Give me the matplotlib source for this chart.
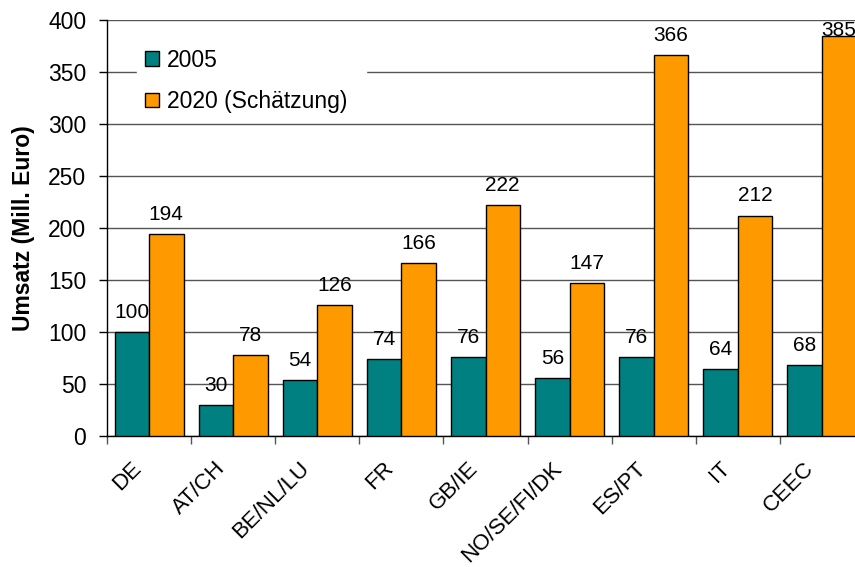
import numpy as np
import matplotlib.pyplot as plt
import matplotlib.transforms as mtransforms

plt.rcParams['font.family'] = ['Liberation Sans', 'DejaVu Sans']

regions = ['DE', 'AT/CH', 'BE/NL/LU', 'FR', 'GB/IE', 'NO/SE/FI/DK', 'ES/PT', 'IT', 'CEEC']
umsatz_2005 = [100, 30, 54, 74, 76, 56, 76, 64, 68]
umsatz_2020 = [194, 78, 126, 166, 222, 147, 366, 212, 385]
series_names = ['2005', '2020 (Schätzung)']
colors = ['#008080', '#FF9900']

fig = plt.figure(figsize=(8.55, 5.67), dpi=100)
# plot area runs slightly past the right edge of the figure
ax = fig.add_axes([107/855, 1 - 436/567, 757/855, 416/567])

x = np.arange(len(regions))
w = 0.41
ymax = 400

for off, vals, name, c in zip([-w/2, w/2], [umsatz_2005, umsatz_2020], series_names, colors):
    ax.bar(x + off, vals, width=w, color=c, edgecolor='black', linewidth=1, label=name, zorder=3)
    for xi, v in zip(x + off, vals):
        # keep labels inside the plot area
        ty = min(v + 13.5, ymax - 15)
        ax.text(xi, ty, str(v), ha='center', va='baseline', fontsize=15, zorder=4)

ax.set_xlim(-0.5, len(regions) - 0.5)
ax.set_ylim(0, ymax)
ax.set_yticks(np.arange(0, 401, 50))
ax.yaxis.grid(True, color='#555555', linewidth=1, zorder=0)
ax.set_axisbelow(True)

# tick marks between groups, labels under group centres
ax.set_xticks(np.arange(-0.5, len(regions), 1))
ax.set_xticklabels([])
ax.set_xticks(x, minor=True)
ax.set_xticklabels(regions, minor=True, rotation=45, ha='right', va='center',
                   rotation_mode='anchor', fontsize=16)
ax.tick_params(axis='x', which='minor', length=0, pad=21)
ax.tick_params(axis='x', which='major', length=6, width=1, color='#555555')
ax.tick_params(axis='y', length=6, width=1, pad=9, labelsize=16.5)
shift = mtransforms.ScaledTranslation(-11/100, 0, fig.dpi_scale_trans)
for lab in ax.get_xticklabels(minor=True):
    lab.set_transform(lab.get_transform() + shift)

for s in ['top', 'right']:
    ax.spines[s].set_visible(False)
for s in ['left', 'bottom']:
    ax.spines[s].set_linewidth(1)
    ax.spines[s].set_color('black')

ax.set_ylabel('Umsatz (Mill. Euro)', fontsize=16.5, fontweight='bold', labelpad=9)

leg = ax.legend(loc='upper left', bbox_to_anchor=(30/757, 0.95, 229/757, 0.0), mode='expand',
                frameon=True, fancybox=False, fontsize=16.5, handlelength=0.6, handleheight=0.6,
                handletextpad=0.35, labelspacing=0.8, borderpad=0.35, borderaxespad=0)
leg.get_frame().set_facecolor('white')
leg.get_frame().set_edgecolor('white')
leg.get_frame().set_alpha(1)
leg.set_zorder(5)
for h in leg.legend_handles:
    h.set_edgecolor('black')
    h.set_linewidth(1)

fig.savefig('out.png', dpi=100)
